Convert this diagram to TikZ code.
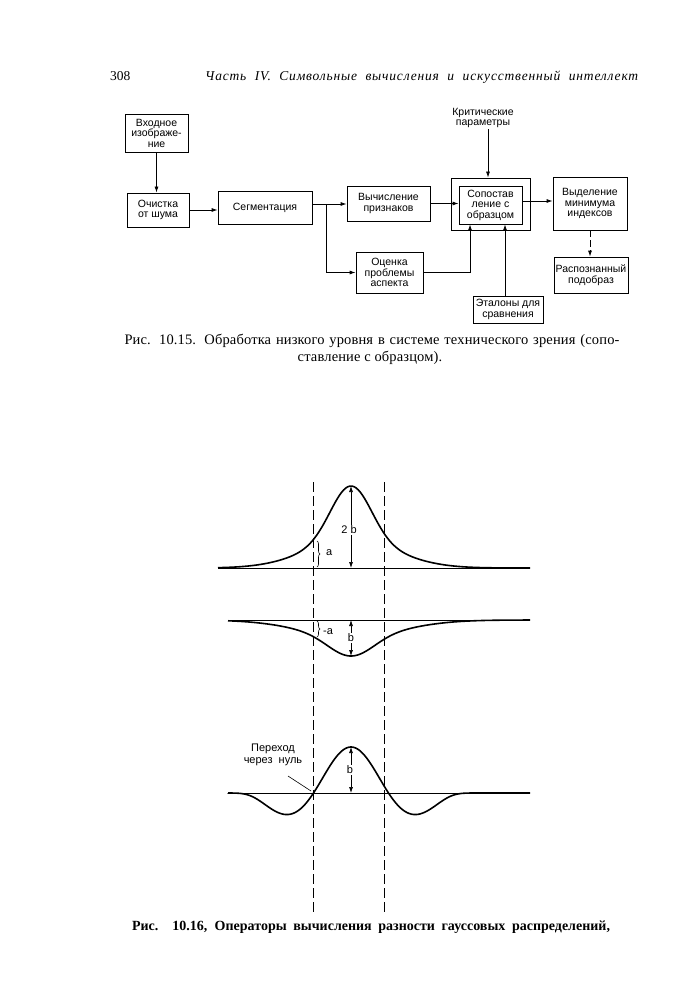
\documentclass[tikz,border=0pt]{standalone}
\usepackage{fontspec}
\setmainfont{Liberation Serif}
\setsansfont{Liberation Sans}
\usetikzlibrary{arrows.meta,decorations.pathreplacing}

\begin{document}
\begin{tikzpicture}[x=1pt,y=-1pt,
    block/.style={draw,line width=0.8pt,align=center,inner sep=1pt,
      font=\sffamily\fontsize{10.5}{10.5}\selectfont},
    arr/.style={line width=0.8pt,-{Latex[length=6pt,width=4pt]}},
    twoway/.style={line width=0.7pt,{Latex[length=6pt,width=4pt]}-{Latex[length=6pt,width=4pt]}},
    curve/.style={line width=1.6pt,line join=round},
    axis/.style={line width=0.8pt},
    guide/.style={line width=0.8pt,dash pattern=on 10pt off 4pt},
    lbl/.style={inner sep=1pt,font=\sffamily\fontsize{11}{12}\selectfont}]
  \fill[white] (0,0) rectangle (697,1000);
  \useasboundingbox (0,0) rectangle (697,1000);

  % running head
  \path (110,81) node[anchor=base west,inner sep=0pt,font=\fontsize{13.5}{13.5}\selectfont] (pageno) {308};
  \path (205,81) node[anchor=base west,inner sep=0pt,
    font=\itshape\fontsize{13.5}{13.5}\selectfont\addfontfeature{LetterSpace=6}] (head)
    {\makebox[433pt][s]{Часть IV. Символьные вычисления и искусственный интеллект}};

  % fig. 10.15
  \path (156.5,133) node[block,minimum width=63pt,minimum height=38pt] (inp) {Входное\\изображе-\\ние};
  \path (158,210) node[block,minimum width=62pt,minimum height=34pt] (clean) {Очистка\\от шума};
  \path (265,207.5) node[block,minimum width=94pt,minimum height=33pt] (seg) {Сегментация};
  \path (388.5,203.5) node[block,minimum width=83pt,minimum height=35pt] (feat) {Вычисление\\признаков};
  \path (389.5,272.5) node[block,minimum width=67pt,minimum height=41pt] (aspect) {Оценка\\проблемы\\аспекта};
  \path (490.5,204) node[draw,line width=0.8pt,minimum width=79pt,minimum height=52pt] (matchbox) {};
  \path (490.5,205) node[block,minimum width=63pt,minimum height=38pt] (match) {Сопостав\\ление с\\образцом};
  \path (590,203.5) node[block,minimum width=74pt,minimum height=53pt] (sel) {Выделение\\минимума\\индексов};
  \path (591,275) node[block,minimum width=74pt,minimum height=36pt] (res) {Распознанный\\подобраз};
  \path (508,309.5) node[block,minimum width=70pt,minimum height=27pt] (etal) {Эталоны для\\сравнения};
  \path (483,118) node[block,draw=none] (crit) {Критические\\параметры};

  \coordinate (fork) at (326,204);
  \draw[arr] (inp.south) -- (inp.south |- clean.north);
  \draw[arr] (clean.east) -- (seg.west |- clean.east);
  \draw[line width=0.8pt] (seg.east |- fork) -- (fork);
  \draw[arr] (fork) -- (fork -| feat.west);
  \draw[arr] (fork) |- (aspect.west);
  \draw[arr] (feat.east) -- (feat.east -| match.west);
  \draw[arr] ([yshift=4pt]match.east) -- ([yshift=4pt]match.east -| sel.west);
  \draw[arr] (aspect.east) -| ([xshift=-20.5pt]match.south);
  \draw[arr] ([xshift=-3pt]etal.north) -- ([xshift=-3pt]etal.north |- match.south);
  \draw[arr] ([xshift=5pt]crit.south) -- ([xshift=5pt]crit.south |- matchbox.north);
  \draw[arr,dash pattern=on 7pt off 3pt] (sel.south) -- (sel.south |- res.north);

  \path (372,344) node[anchor=base,inner sep=0pt,
    font=\fontsize{14.5}{15}\selectfont\addfontfeature{LetterSpace=1}] (cap1)
    {\makebox[495pt][s]{Рис. 10.15. Обработка низкого уровня в системе технического зрения (сопо-}};
  \path (370,361) node[anchor=base,inner sep=0pt,
    font=\fontsize{14.5}{15}\selectfont\addfontfeature{LetterSpace=1}] (cap1b)
    {ставление с образцом).};

  % fig. 10.16
  \draw[guide] (313,482) -- (313,912);
  \draw[guide] (384,482) -- (384,912);

  \draw[axis] (218,568) -- (530,568);
  \draw[curve] plot[domain=218:530,samples=150]
    (\x,{568-55*exp(-((\x-351)/10)^2/8)-27*exp(-((\x-351)/10)^2/40.5)});
  \draw[twoway] (351,486) -- (351,568);
  \path (349,530) node[lbl,fill=white] (twob) {2 b};
  \draw[line width=0.6pt,decorate,decoration={brace,amplitude=3pt}] (317,541) -- (317,567);
  \path (325,553) node[lbl,anchor=west] (la) {a};

  \draw[axis] (228,620) -- (530,620);
  \draw[curve] plot[domain=228:530,samples=150]
    (\x,{620+20*exp(-((\x-351)/10)^2/9.68)+16*exp(-((\x-351)/10)^2/50)});
  \draw[twoway] (351,620) -- (351,656);
  \path (351,638) node[lbl,fill=white] (lb) {b};
  \draw[line width=0.6pt,decorate,decoration={brace,amplitude=3pt}] (317,621) -- (317,637);
  \path (322,632) node[lbl,anchor=west] (lma) {-a};

  \draw[axis] (228,793) -- (530,793);
  \draw[curve] (228,793) -- plot[domain=228:474,samples=160]
    (\x,{793-46*(1-((\x-351)/37.5)^2)*exp(-((\x-351)/10)^2/29.8)*exp(-((\x-351)/98)^8)})
    -- (530,793);
  \draw[twoway] (351,747) -- (351,793);
  \path (350,770) node[lbl,fill=white] (lb2) {b};
  \path (273,755) node[lbl,align=center] (zc) {Переход\\через\ \ нуль};
  \coordinate (ptr) at (288,776);
  \coordinate (cross) at (311,791);
  \draw[line width=0.6pt] (ptr) -- (cross);

  \path (371,930) node[anchor=base,inner sep=0pt,
    font=\bfseries\fontsize{14}{15}\selectfont] (cap2)
    {\makebox[478pt][s]{Рис. 10.16, Операторы вычисления разности гауссовых распределений,}};
\end{tikzpicture}
\end{document}
